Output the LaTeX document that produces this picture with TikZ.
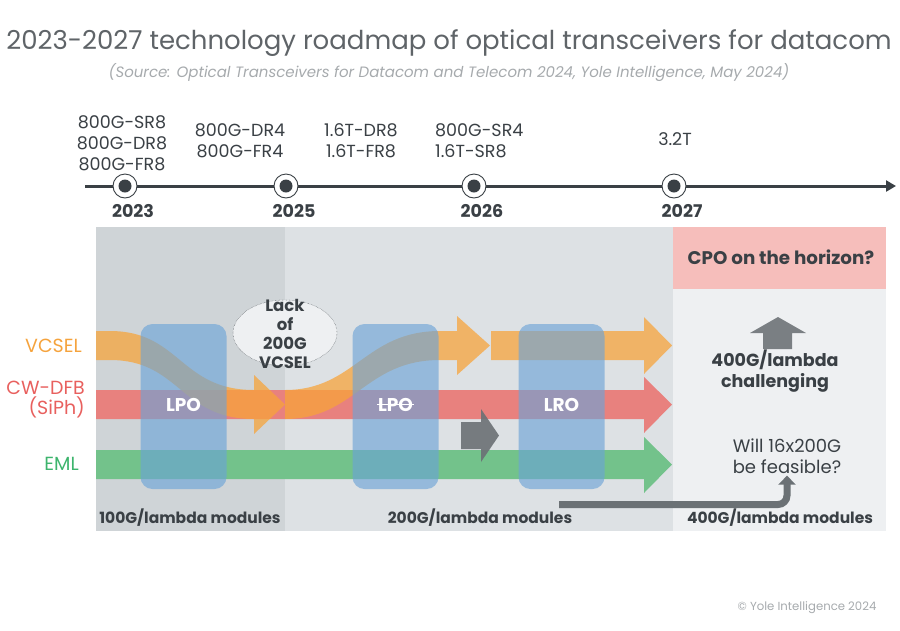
\documentclass[tikz,border=0pt]{standalone}
\usepackage{fontspec}
\setmainfont{Poppins}
\usepackage{tikz}
\usepackage{xcolor}
\usetikzlibrary{positioning,shapes.geometric,arrows.meta}

\definecolor{ink}{HTML}{3A4045}
\definecolor{ink-title}{HTML}{5F6468}
\definecolor{ink-soft}{HTML}{A6AAAD}
\definecolor{zone-a}{HTML}{CFD4D7}
\definecolor{zone-b}{HTML}{DDE1E4}
\definecolor{zone-c}{HTML}{EEF0F2}
\definecolor{zone-cpo}{HTML}{F6BEBB}
\definecolor{c-orange}{RGB}{247,164,58}
\definecolor{c-red}{HTML}{E8817E}
\definecolor{c-green}{HTML}{73C28B}
\definecolor{c-blue}{RGB}{107,163,215}
\definecolor{t-orange}{HTML}{F5A33D}
\definecolor{t-red}{HTML}{E8605E}
\definecolor{t-green}{HTML}{3DB46D}
\definecolor{c-gray}{HTML}{6B7175}

\begin{document}
\begin{tikzpicture}
[x=1pt, y=-1pt,
title-a/.style={font=\fontsize{26}{30}\selectfont, text=ink-title},
title-b/.style={font=\fontsize{15}{18}\selectfont\itshape, text=ink-soft},
prod-a/.style={font=\fontsize{17.5}{21}\selectfont, text=ink, align=center, inner sep=0pt},
year-a/.style={font=\fontsize{17.5}{20}\selectfont\bfseries, text=ink, inner sep=0pt},
ring-a/.style={circle, draw=ink, line width=0.9pt, fill=white, minimum size=24pt, inner sep=0pt},
dot-a/.style={circle, fill=ink, minimum size=13pt, inner sep=0pt},
tech-a/.style={font=\fontsize{19}{20}\selectfont, anchor=east, align=right, inner sep=0pt},
mod-box/.style={rectangle, rounded corners=12pt, fill=c-blue, fill opacity=0.63, minimum width=86pt, minimum height=165pt},
mod-text/.style={font=\fontsize{18.5}{20}\selectfont\bfseries, text=white, inner sep=0pt},
zone-text/.style={font=\fontsize{15.5}{18}\selectfont\bfseries, text=ink, inner sep=0pt},
note-a/.style={font=\fontsize{17.5}{21}\selectfont\bfseries, text=ink, align=center, inner sep=0pt},
note-b/.style={font=\fontsize{18}{21}\selectfont, text=ink, align=center, inner sep=2pt},
]
\useasboundingbox (0,0) rectangle (900,630);

% title
\node (title) [title-a] at (449,43) {2023-2027 technology roadmap of optical transceivers for datacom};
\node (source) [title-b] at (449,73) {(Source: Optical Transceivers for Datacom and Telecom 2024, Yole Intelligence, May 2024)};

% timeline
\coordinate (tl-start) at (85,186);
\coordinate (tl-end) at (896,186);
\draw [ink, line width=3pt, -{Triangle[width=11pt,length=10pt]}] (tl-start) -- (tl-end);
\node (m-2023) [ring-a] at (125,186) {};
\node (m-2025) [ring-a] at (286,186) {};
\node (m-2026) [ring-a] at (474,186) {};
\node (m-2027) [ring-a] at (674,186) {};
\node (d-2023) [dot-a] at (m-2023) {};
\node (d-2025) [dot-a] at (m-2025) {};
\node (d-2026) [dot-a] at (m-2026) {};
\node (d-2027) [dot-a] at (m-2027) {};
\node (y-2023) [year-a, below = 6pt of m-2023, xshift=8pt] {2023};
\node (y-2025) [year-a, below = 6pt of m-2025, xshift=8pt] {2025};
\node (y-2026) [year-a, below = 6pt of m-2026, xshift=8pt] {2026};
\node (y-2027) [year-a, below = 6pt of m-2027, xshift=8pt] {2027};
\node (p-2023) [prod-a] at (122,143) {800G-SR8\\800G-DR8\\800G-FR8};
\node (p-2025) [prod-a] at (240,141) {800G-DR4\\800G-FR4};
\node (p-2025b) [prod-a] at (361,141) {1.6T-DR8\\1.6T-FR8};
\node (p-2026) [prod-a, align=left, anchor=west] at (435,141) {800G-SR4\\1.6T-SR8};
\node (p-2027) [prod-a] at (675,139) {3.2T};

% zones
\fill [zone-a] (96,227) rectangle (285,531);
\fill [zone-b] (285,227) rectangle (673,531);
\fill [zone-c] (673,227) rectangle (886,531);
\fill [zone-cpo] (673,227) rectangle (886,289);

% bands
\fill [c-red] (96,390) -- (644,390) -- (644,377) -- (672,404.5) -- (644,433) -- (644,419) -- (96,419) -- cycle;
\fill [c-green] (96,450) -- (644,450) -- (644,437) -- (672,464.5) -- (644,493) -- (644,479) -- (96,479) -- cycle;
\fill [c-orange, fill opacity=0.74] (96,331) -- (110,331) .. controls (180,331) and (180,390) .. (254,390) -- (254,375) -- (285,404.5) -- (254,434) -- (254,419) .. controls (180,419) and (180,360) .. (110,360) -- (96,360) -- cycle;
\fill [c-orange, fill opacity=0.74] (285,390) .. controls (355,390) and (365,331) .. (440,331) -- (457,331) -- (457,316) -- (490,345.5) -- (457,375) -- (457,360) -- (440,360) .. controls (365,360) and (355,419) .. (285,419) -- cycle;
\fill [c-orange, fill opacity=0.74] (491,331) -- (644,331) -- (644,317) -- (672,345.5) -- (644,374) -- (644,360) -- (491,360) -- cycle;
\fill [c-gray, fill opacity=0.9] (461,422) -- (481,422) -- (481,409) -- (499,435.5) -- (481,462) -- (481,449) -- (461,449) -- cycle;

% technologies
\node (vcsel) [tech-a, text=t-orange] at (82,346) {VCSEL};
\node (cwdfb) [tech-a, text=t-red] at (85,400) {CW-DFB\\(SiPh)};
\node (eml) [tech-a, text=t-green] at (79,464) {EML};

% modules
\node (lpo-1) [mod-box] at (183.5,406.5) {};
\node (lpo-2) [mod-box] at (395.5,406.5) {};
\node (lro) [mod-box] at (561.5,406.5) {};
\node (lpo-1-txt) [mod-text] at (183.5,404.5) {LPO};
\node (lpo-2-txt) [mod-text] at (395.5,404.5) {LPO};
\node (lro-txt) [mod-text] at (561.5,404.5) {LRO};
\draw [white, line width=1.5pt] ([xshift=-1pt]lpo-2-txt.west) -- ([xshift=1pt]lpo-2-txt.east);

% lack of vcsel
\node (lack) [ellipse, draw=ink, densely dotted, fill=zone-c, minimum width=104pt, minimum height=66pt] at (285,333) {};
\node (lack-txt) [note-a, font=\fontsize{16.5}{19}\selectfont\bfseries] at (285,334) {Lack\\of\\200G\\VCSEL};

% 400G zone
\fill [c-gray!90!white] (763,349) -- (763,333) -- (750,333) -- (778,317) -- (806,333) -- (792,333) -- (792,349) -- cycle;
\node (cpo) [note-a, font=\fontsize{18.3}{21}\selectfont\bfseries] at (781,257) {CPO on the horizon?};
\node (hard) [note-a] at (775,371) {400G/lambda\\challenging};
\node (feasible) [note-b] at (787,456) {Will 16x200G\\be feasible?};
\coordinate (bent-start) at (559,504.5);
\draw [c-gray, line width=7pt, rounded corners=9pt, -{Triangle[width=17pt,length=9pt]}] (bent-start) -| (feasible.south);

% zone labels
\node (z-100) [zone-text] at (190,518) {100G/lambda modules};
\node (z-200) [zone-text] at (480,518) {200G/lambda modules};
\node (z-400) [zone-text] at (780,518) {400G/lambda modules};

\node (copy) [font=\fontsize{11.7}{13}\selectfont, text=ink-soft] at (807,608) {\textcopyright{} Yole Intelligence 2024};
\end{tikzpicture}
\end{document}
